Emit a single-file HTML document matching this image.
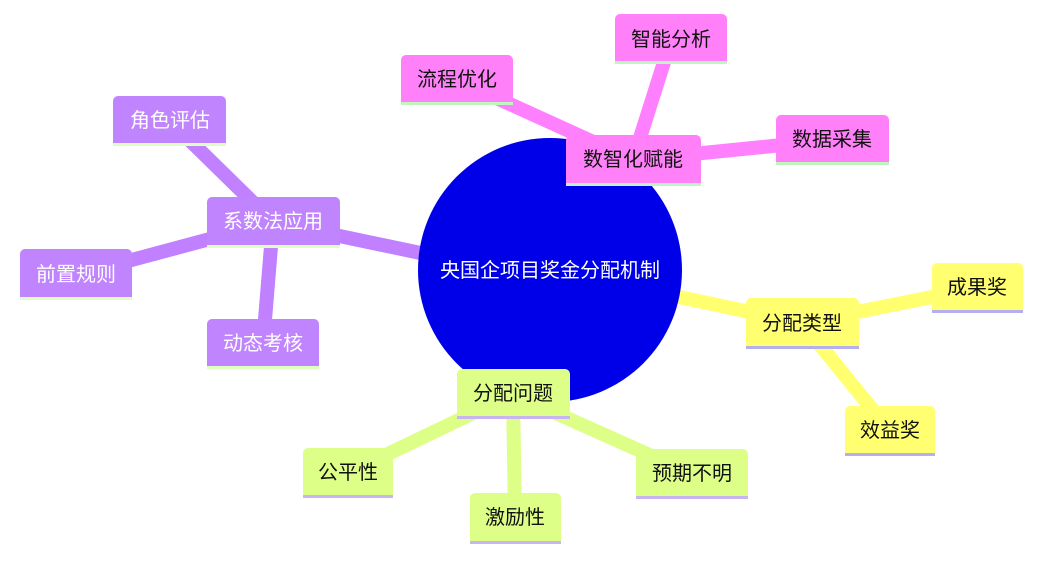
<!DOCTYPE html>
<html><head><meta charset="utf-8"><style>
html,body{margin:0;padding:0;background:#fff;}
svg{display:block;font-family:"Liberation Sans","Noto Sans CJK SC",sans-serif;}
text{font-size:20px;text-anchor:middle;dominant-baseline:central;}
</style></head><body>
<svg width="1043" height="563" viewBox="0 0 1043 563">
<g stroke-width="14" stroke-linecap="butt">
<g stroke="#ff80ff">
<line x1="550" y1="230" x2="633" y2="160"/>
<line x1="633" y1="160" x2="671" y2="40"/>
<line x1="633" y1="160" x2="457" y2="80"/>
<line x1="633" y1="160" x2="832" y2="140"/>
</g>
<g stroke="#c080ff">
<line x1="430" y1="255" x2="273" y2="222"/>
<line x1="273" y1="222" x2="170" y2="121"/>
<line x1="273" y1="222" x2="76" y2="275"/>
<line x1="273" y1="222" x2="263" y2="344"/>
</g>
<g stroke="#ffff70">
<line x1="670" y1="295" x2="802" y2="323"/>
<line x1="802" y1="323" x2="977" y2="288"/>
<line x1="802" y1="323" x2="890" y2="431"/>
</g>
<g stroke="#ddff88">
<line x1="513" y1="394" x2="348" y2="473"/>
<line x1="513" y1="394" x2="515" y2="518"/>
<line x1="513" y1="394" x2="692" y2="474"/>
</g>
</g>
<circle cx="550" cy="270" r="132" fill="#0000e8"/>
<text x="550" y="271" fill="#fff">央国企项目奖金分配机制</text>
<defs>
<g id="n"></g>
</defs>
<!-- nodes: rect with rounded top, bottom strip -->
<g>
<path d="M566,186 V140 a5,5 0 0 1 5,-5 H696 a5,5 0 0 1 5,5 V186 Z" fill="#ff80f8"/><rect x="566" y="183" width="135" height="3" fill="#c0f5c0"/><text x="633" y="160" fill="#111">数智化赋能</text>
<path d="M615,64 V19 a5,5 0 0 1 5,-5 H722 a5,5 0 0 1 5,5 V64 Z" fill="#ff80f8"/><rect x="615" y="61" width="112" height="3" fill="#c0f5c0"/><text x="671" y="40" fill="#111">智能分析</text>
<path d="M401,105 V60 a5,5 0 0 1 5,-5 H508 a5,5 0 0 1 5,5 V105 Z" fill="#ff80f8"/><rect x="401" y="102" width="112" height="3" fill="#c0f5c0"/><text x="457" y="80" fill="#111">流程优化</text>
<path d="M776,165 V120 a5,5 0 0 1 5,-5 H884 a5,5 0 0 1 5,5 V165 Z" fill="#ff80f8"/><rect x="776" y="162" width="113" height="3" fill="#c0f5c0"/><text x="832" y="140" fill="#111">数据采集</text>

<path d="M207,248 V202 a5,5 0 0 1 5,-5 H335 a5,5 0 0 1 5,5 V248 Z" fill="#c184ff"/><rect x="207" y="245" width="133" height="3" fill="#ddffc0"/><text x="273" y="222" fill="#fff">系数法应用</text>
<path d="M113,146 V101 a5,5 0 0 1 5,-5 H221 a5,5 0 0 1 5,5 V146 Z" fill="#c184ff"/><rect x="113" y="143" width="113" height="3" fill="#ddffc0"/><text x="170" y="121" fill="#fff">角色评估</text>
<path d="M20,300 V254 a5,5 0 0 1 5,-5 H127 a5,5 0 0 1 5,5 V300 Z" fill="#c184ff"/><rect x="20" y="297" width="112" height="3" fill="#ddffc0"/><text x="76" y="275" fill="#fff">前置规则</text>
<path d="M207,369 V324 a5,5 0 0 1 5,-5 H314 a5,5 0 0 1 5,5 V369 Z" fill="#c184ff"/><rect x="207" y="366" width="112" height="3" fill="#ddffc0"/><text x="263" y="344" fill="#fff">动态考核</text>

<path d="M746,349 V303 a5,5 0 0 1 5,-5 H854 a5,5 0 0 1 5,5 V349 Z" fill="#ffff70"/><rect x="746" y="346" width="113" height="3" fill="#b4b0f0"/><text x="802" y="324" fill="#111">分配类型</text>
<path d="M932,313 V268 a5,5 0 0 1 5,-5 H1018 a5,5 0 0 1 5,5 V313 Z" fill="#ffff70"/><rect x="932" y="310" width="91" height="3" fill="#b4b0f0"/><text x="977" y="288" fill="#111">成果奖</text>
<path d="M845,456 V411 a5,5 0 0 1 5,-5 H930 a5,5 0 0 1 5,5 V456 Z" fill="#ffff70"/><rect x="845" y="453" width="90" height="3" fill="#b4b0f0"/><text x="890" y="431" fill="#111">效益奖</text>

<path d="M457,419 V374 a5,5 0 0 1 5,-5 H565 a5,5 0 0 1 5,5 V419 Z" fill="#ddff88"/><rect x="457" y="416" width="113" height="3" fill="#c8b4f0"/><text x="513" y="394" fill="#111">分配问题</text>
<path d="M303,498 V453 a5,5 0 0 1 5,-5 H388 a5,5 0 0 1 5,5 V498 Z" fill="#ddff88"/><rect x="303" y="495" width="90" height="3" fill="#c8b4f0"/><text x="348" y="473" fill="#111">公平性</text>
<path d="M470,544 V498 a5,5 0 0 1 5,-5 H556 a5,5 0 0 1 5,5 V544 Z" fill="#ddff88"/><rect x="470" y="541" width="91" height="3" fill="#c8b4f0"/><text x="515" y="518" fill="#111">激励性</text>
<path d="M636,499 V454 a5,5 0 0 1 5,-5 H743 a5,5 0 0 1 5,5 V499 Z" fill="#ddff88"/><rect x="636" y="496" width="112" height="3" fill="#c8b4f0"/><text x="692" y="474" fill="#111">预期不明</text>
</g>
</svg>
</body></html>
